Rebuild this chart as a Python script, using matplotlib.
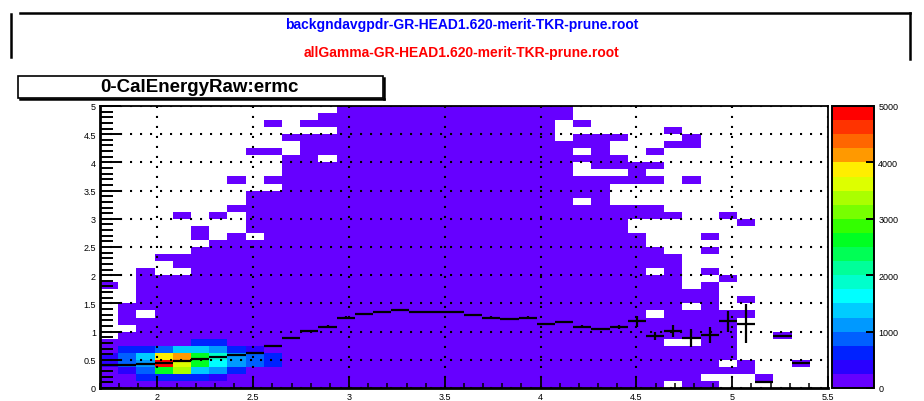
import numpy as np
import matplotlib
matplotlib.use('Agg')
import matplotlib.pyplot as plt
from matplotlib.colors import ListedColormap, BoundaryNorm
from matplotlib.patches import Rectangle
from matplotlib.lines import Line2D

W, H = 924, 402
plt.rcParams['font.family'] = ['Liberation Sans', 'DejaVu Sans']

# ---------------- text ----------------
file_bkg = 'backgndavgpdr-GR-HEAD1.620-merit-TKR-prune.root'
file_sig = 'allGamma-GR-HEAD1.620-merit-TKR-prune.root'
hist_title = '0-CalEnergyRaw:ermc'

# ---------------- binning ----------------
x_range = (1.7, 5.5)
nx = 40
y_range = (0.0, 5.0)
ny = 40

x_tick_vals = [2, 2.5, 3, 3.5, 4, 4.5, 5, 5.5]
x_tick_labels = ['2', '2.5', '3', '3.5', '4', '4.5', '5', '5.5']
y_tick_vals = [0, 0.5, 1, 1.5, 2, 2.5, 3, 3.5, 4, 4.5, 5]
y_tick_labels = ['0', '0.5', '1', '1.5', '2', '2.5', '3', '3.5', '4', '4.5', '5']
z_tick_vals = [0, 1000, 2000, 3000, 4000, 5000]
z_tick_labels = ['0', '1000', '2000', '3000', '4000', '5000']

# 20-level colour palette (bottom -> top)
palette = ['#6600ff', '#2a00ff', '#0022ff', '#0060ff', '#0099ff',
           '#00ccff', '#00ffff', '#00ffcc', '#00ff99', '#00ff55',
           '#00ff22', '#33ff00', '#77ff00', '#aaff00', '#ddff00',
           '#ffee00', '#ff9900', '#ff6600', '#ff3300', '#ff0000']
z_max = 5000

# ---------------- 2D histogram content ----------------
base_count = 100
# highest filled y-bin of the contiguous block in every x-bin (-1 = none)
col_top = [5, 11, 16, 15, 18, 19, 20, 21, 27, 29, 32, 35, 38,
           39, 39, 39, 39, 39, 39, 39, 39, 39, 39, 39, 39,
           39, 35, 35, 35, 19, 19, 18, 13, 13, -1, -1, -1, -1, -1, -1]
# empty cells inside the block (x-bin, y-bin)
holes = [(1, 8), (2, 10), (4, 16), (8, 21), (9, 28), (12, 36), (12, 32),
         (25, 37), (25, 36), (25, 35), (26, 33), (26, 31), (26, 30), (26, 26),
         (27, 30), (28, 34), (28, 33), (28, 30), (28, 28), (28, 27), (28, 26),
         (30, 16), (30, 10), (31, 6), (32, 6), (32, 11), (31, 0), (33, 1)]
# isolated filled cells outside the block (x-bin, y-bin)
extras = [(0, 14), (3, 18), (4, 24), (5, 22), (5, 21), (6, 24), (7, 25), (7, 29),
          (8, 33), (9, 33), (9, 37), (10, 35), (11, 37), (26, 37),
          (29, 31), (29, 30), (29, 29), (29, 25), (29, 24), (29, 21), (29, 20),
          (30, 33), (30, 31), (30, 29), (30, 25), (30, 24),
          (31, 36), (31, 34), (31, 24), (32, 35), (32, 34), (32, 29),
          (33, 21), (33, 19), (33, 16), (33, 14),
          (34, 24), (34, 15), (34, 10), (34, 9), (34, 8), (34, 7), (34, 6),
          (34, 5), (34, 4), (34, 2),
          (35, 23), (35, 12), (35, 10), (35, 3), (35, 2),
          (36, 1), (37, 7), (38, 3)]
# dense core: counts for y-bins 0..6 (rows) and x-bins 0..9 (columns)
core_counts = [
    [100, 100, 100, 100, 100, 100, 100, 100, 100, 100],
    [100, 100, 600, 600, 600, 600, 300, 100, 100, 100],
    [100, 400, 800, 2600, 3300, 1400, 1000, 500, 100, 100],
    [400, 800, 1200, 4900, 3700, 2600, 1600, 1000, 800, 500],
    [300, 900, 1400, 3900, 4100, 2600, 1900, 1100, 900, 600],
    [100, 500, 700, 800, 1300, 1400, 1000, 700, 400, 100],
    [100, 100, 100, 100, 100, 700, 700, 100, 100, 100],
]

# ---------------- profile overlay ----------------
prof_mean = [0.41, 0.41, 0.42, 0.44, 0.47, 0.51, 0.55, 0.58, 0.62, 0.75,
             0.88, 1.01, 1.09, 1.25, 1.31, 1.35, 1.38, 1.35, 1.35, 1.35,
             1.30, 1.25, 1.22, 1.25, 1.13, 1.17, 1.09, 1.05, 1.08, 1.18,
             0.92, 1.01, 0.88, 0.94, 1.18, 1.14, 0.11, 0.93, 0.44, np.nan]
prof_err = [0.01, 0.01, 0.01, 0.01, 0.01, 0.01, 0.01, 0.01, 0.01, 0.01,
            0.01, 0.01, 0.02, 0.02, 0.02, 0.02, 0.02, 0.02, 0.02, 0.02,
            0.02, 0.02, 0.02, 0.02, 0.02, 0.02, 0.02, 0.02, 0.03, 0.09,
            0.07, 0.10, 0.16, 0.15, 0.19, 0.35, 0.0, 0.0, 0.0, np.nan]

# ---------------- build histogram ----------------
xe = np.linspace(x_range[0], x_range[1], nx + 1)
ye = np.linspace(y_range[0], y_range[1], ny + 1)
Hm = np.zeros((ny, nx))
for i, top in enumerate(col_top):
    if top >= 0:
        Hm[:top + 1, i] = base_count
for i, j in holes:
    Hm[j, i] = 0
for i, j in extras:
    Hm[j, i] = base_count
for j, row in enumerate(core_counts):
    for i, v in enumerate(row):
        Hm[j, i] = v
Hmask = np.ma.masked_equal(Hm, 0)

cmap = ListedColormap(palette)
bounds = np.linspace(0, z_max, len(palette) + 1)
norm = BoundaryNorm(bounds, cmap.N)


def fx(x):
    return x / W


def fy(y):
    return 1 - y / H


fig = plt.figure(figsize=(W / 100, H / 100), dpi=100)
fig.patch.set_facecolor('white')

# main axes
L, R, T, B = 100, 828, 107, 389
ax = fig.add_axes([fx(L), fy(B), (R - L) / W, (B - T) / H])
mesh = ax.pcolormesh(xe, ye, Hmask, cmap=cmap, norm=norm,
                     edgecolors='none', antialiased=False, zorder=1)
ax.set_xlim(*x_range)
ax.set_ylim(*y_range)

xc = 0.5 * (xe[:-1] + xe[1:])
hw = 0.5 * (xe[1] - xe[0])
ax.errorbar(xc, prof_mean, yerr=prof_err, xerr=hw, fmt='none',
            ecolor='black', elinewidth=1.6, capsize=0, zorder=4)

ax.set_axisbelow(False)
ax.set_xticks(x_tick_vals)
ax.set_xticklabels(x_tick_labels)
ax.set_yticks(y_tick_vals)
ax.set_yticklabels(y_tick_labels)
ax.set_xticks(np.arange(1.7, 5.5, 0.1), minor=True)
ax.set_yticks(np.arange(0.1, 5.0, 0.1), minor=True)
ax.tick_params(axis='x', which='major', direction='in', length=8.5, width=1.3,
               labelsize=6.5, pad=3, top=False)
ax.tick_params(axis='x', which='minor', direction='in', length=3.6, width=1.1,
               top=False)
ax.tick_params(axis='y', which='major', direction='in', length=15, width=1.4,
               labelsize=6.5, pad=3, right=False)
ax.tick_params(axis='y', which='minor', direction='in', length=9, width=1.4,
               right=False)
ax.grid(True, which='major', color='black', linestyle=(0, (1, 3.8)),
        linewidth=1.5)
for s in ax.spines.values():
    s.set_linewidth(1.3)
ax.spines['left'].set_linewidth(2)
ax.spines['bottom'].set_linewidth(2)

# colour bar
cax = fig.add_axes([fx(832), fy(B), 42 / W, (B - T) / H])
cb = fig.colorbar(mesh, cax=cax, ticks=z_tick_vals)
cb.ax.set_yticklabels(z_tick_labels)
cb.outline.set_linewidth(1.4)
cax.tick_params(axis='y', direction='in', length=5.5, width=1.4,
                labelsize=6.5, pad=3)
cax.minorticks_off()

# header pad
fig.add_artist(Line2D([fx(11), fx(11)], [fy(15), fy(58)], transform=fig.transFigure,
                      color='black', lw=1.8))
fig.add_artist(Line2D([fx(20), fx(910)], [fy(14), fy(14)], transform=fig.transFigure,
                      color='black', lw=1.8))
fig.add_artist(Line2D([fx(910), fx(910)], [fy(14), fy(60)], transform=fig.transFigure,
                      color='black', lw=1.8))
fig.text(fx(462), fy(25), file_bkg, color='#0000ff', fontsize=10, fontweight='bold',
         ha='center', va='center')
fig.text(fx(462), fy(53), file_sig, color='#ff0000', fontsize=10, fontweight='bold',
         ha='center', va='center')

# title box
fig.add_artist(Rectangle((fx(18), fy(99)), (383 - 18) / W, (99 - 77) / H,
                         transform=fig.transFigure, facecolor='white',
                         edgecolor='black', lw=1.2))
fig.add_artist(Line2D([fx(383.5), fx(383.5)], [fy(79), fy(100)], transform=fig.transFigure,
                      color='black', lw=1.8))
fig.add_artist(Line2D([fx(20), fx(384)], [fy(99.5), fy(99.5)], transform=fig.transFigure,
                      color='black', lw=1.8))
fig.text(fx(199), fy(88), hist_title, color='black', fontsize=13.5, fontweight='bold',
         ha='center', va='center')

fig.savefig('out.png', dpi=100)
